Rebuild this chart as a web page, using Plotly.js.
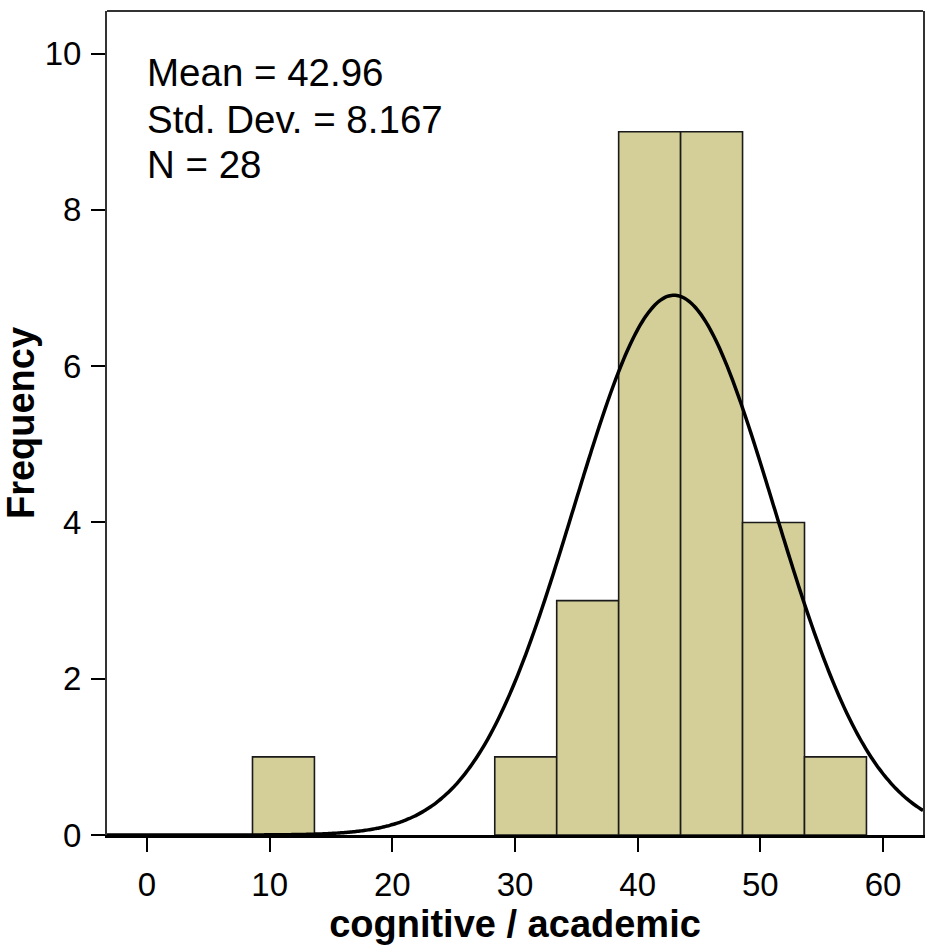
<!DOCTYPE html>
<html>
<head>
<meta charset="utf-8">
<script src="https://cdn.plot.ly/plotly-3.0.1.min.js"></script>
<style>
  html, body { margin: 0; padding: 0; background: #fff; }
  #chart { width: 925px; height: 951px; }
</style>
</head>
<body>
<div id="chart"></div>
<script>
// ---- Data ----
const binLeft  = [8.6, 28.35, 33.4, 38.45, 43.5, 48.55, 53.6];
const binRight = [13.65, 33.4, 38.45, 43.5, 48.55, 53.6, 58.65];
const counts   = [1, 1, 3, 9, 9, 4, 1];

// Summary statistics printed on the chart (define the fitted normal curve)
const statMean = 42.96;
const statSD = 8.167;
const statN = 28;
const binWidth = 5.05;

const xTicks = [0, 10, 20, 30, 40, 50, 60];
const yTicks = [0, 2, 4, 6, 8, 10];
const xRange = [-3.26, 63.26];
const yRange = [0, 10.545];

// ---- Derived values ----
const barX = binLeft.map((l, i) => (l + binRight[i]) / 2);
const barW = binLeft.map((l, i) => binRight[i] - l);

// normal curve scaled to histogram frequency
const curveX = [];
const curveY = [];
const steps = 300;
for (let i = 0; i <= steps; i++) {
  const x = xRange[0] + (xRange[1] - xRange[0]) * i / steps;
  const z = (x - statMean) / statSD;
  curveX.push(x);
  curveY.push(statN * binWidth / (statSD * Math.sqrt(2 * Math.PI)) * Math.exp(-0.5 * z * z));
}

const FONT = "Liberation Sans, Arial, sans-serif";

const traces = [
  {
    type: "bar",
    x: barX,
    y: counts,
    width: barW,
    marker: { color: "rgb(212,207,152)", line: { color: "#1a1a1a", width: 1.6 } },
    hoverinfo: "skip"
  },
  {
    type: "scatter",
    mode: "lines",
    x: curveX,
    y: curveY,
    line: { color: "#000", width: 3.5, shape: "spline" },
    hoverinfo: "skip"
  }
];

const layout = {
  width: 925,
  height: 951,
  margin: { l: 107, r: 2, t: 11, b: 116 },
  paper_bgcolor: "#fff",
  plot_bgcolor: "#fff",
  showlegend: false,
  bargap: 0,
  font: { family: FONT, color: "#000" },
  xaxis: {
    range: xRange,
    tickvals: xTicks,
    ticktext: xTicks.map(String),
    ticks: "outside",
    ticklen: 14,
    tickwidth: 2,
    tickcolor: "#000",
    tickfont: { size: 33, family: FONT, color: "#000" },
    ticklabelstandoff: 4,
    showline: true,
    linecolor: "#000",
    linewidth: 3,
    showgrid: false,
    zeroline: false,
    title: { text: "cognitive / academic", font: { size: 38, family: FONT, color: "#000", weight: "bold" }, standoff: 8 }
  },
  yaxis: {
    range: yRange,
    tickvals: yTicks,
    ticktext: yTicks.map(String),
    ticks: "outside",
    ticklen: 14,
    tickwidth: 2,
    tickcolor: "#000",
    tickfont: { size: 33, family: FONT, color: "#000" },
    ticklabelstandoff: 3,
    showline: true,
    mirror: true,
    linecolor: "#333",
    linewidth: 2,
    showgrid: false,
    zeroline: false,
    title: { text: "Frequency", font: { size: 38, family: FONT, color: "#000", weight: "bold" }, standoff: 2 }
  },
  shapes: [
    { type: "line", xref: "paper", yref: "paper", x0: 0, x1: 1, y0: 1, y1: 1, line: { color: "#333", width: 2 } }
  ],
  annotations: [
    { text: "Mean = " + statMean.toFixed(2), xref: "paper", yref: "paper", x: 0.047, y: 0.925, xanchor: "left", yanchor: "middle", showarrow: false, font: { size: 38.5, family: FONT, color: "#000" } },
    { text: "Std. Dev. = " + statSD.toFixed(3), xref: "paper", yref: "paper", x: 0.047, y: 0.868, xanchor: "left", yanchor: "middle", showarrow: false, font: { size: 38.5, family: FONT, color: "#000" } },
    { text: "N = " + statN, xref: "paper", yref: "paper", x: 0.047, y: 0.814, xanchor: "left", yanchor: "middle", showarrow: false, font: { size: 38.5, family: FONT, color: "#000" } }
  ]
};

Plotly.newPlot("chart", traces, layout, { staticPlot: true, displayModeBar: false });
</script>
</body>
</html>
